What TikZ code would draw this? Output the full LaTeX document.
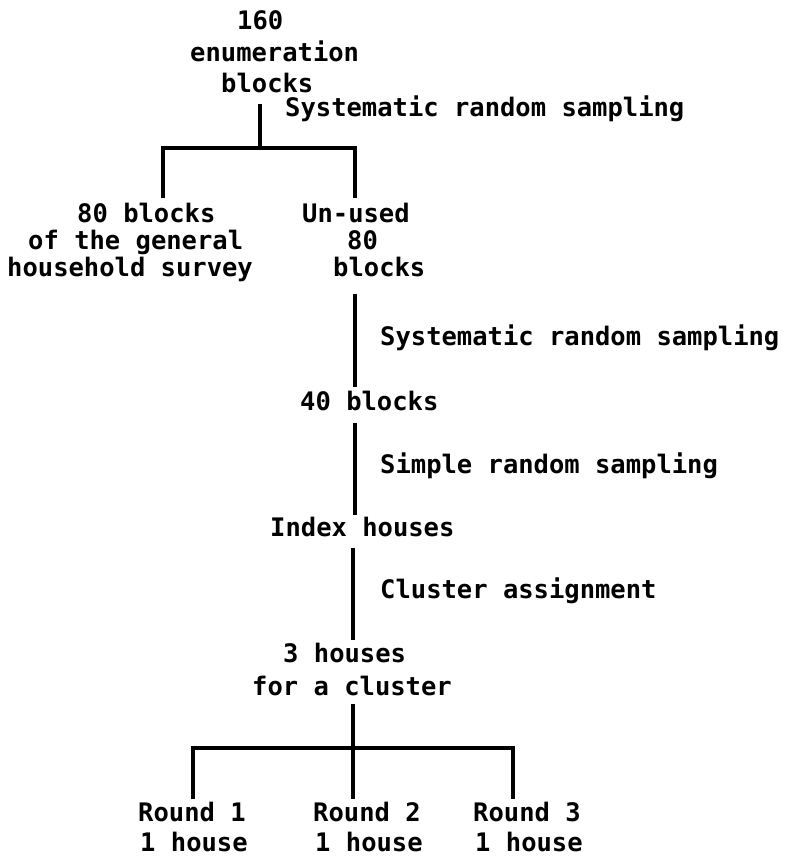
\documentclass[tikz,border=0pt]{standalone}
\usepackage{fontspec}
\setmonofont{DejaVu Sans Mono}
\begin{document}
\begin{tikzpicture}[x=1pt,y=-1pt,
  txt/.style={font=\fontsize{25.5}{31}\selectfont\ttfamily\bfseries, inner sep=0pt, anchor=base west},
  conn/.style={draw=black, line width=3.2pt}]
\fill[white] (0,0) rectangle (797,856);
\useasboundingbox (0,0) rectangle (797,856);
% nodes
\node[txt] (top) at (190,30) {\vtop{\baselineskip=31.5pt\hbox{\kern47pt 160}\hbox{enumeration}\hbox{\kern31pt blocks}}};
\node[txt] (s1) at (285,117) {Systematic random sampling};
\node[txt] (gen) at (7,222) {\vtop{\baselineskip=27pt\hbox{\kern70pt 80 blocks}\hbox{\kern21pt of the general}\hbox{household survey}}};
\node[txt] (un) at (302,222) {\vtop{\baselineskip=27pt\hbox{Un-used}\hbox{\kern45pt 80}\hbox{\kern31pt blocks}}};
\node[txt] (s2) at (380,345) {Systematic random sampling};
\node[txt] (b40) at (300,410) {40 blocks};
\node[txt] (s3) at (380,473) {Simple random sampling};
\node[txt] (idx) at (270,536) {Index houses};
\node[txt] (s4) at (380,598) {Cluster assignment};
\node[txt] (hs) at (252,662) {\vtop{\baselineskip=33pt\hbox{\kern31pt 3 houses}\hbox{for a cluster}}};
\node[txt] (r1) at (138,821) {\vtop{\baselineskip=30pt\hbox{Round 1}\hbox{\kern2pt 1 house}}};
\node[txt] (r2) at (313,821) {\vtop{\baselineskip=30pt\hbox{Round 2}\hbox{\kern2pt 1 house}}};
\node[txt] (r3) at (473,821) {\vtop{\baselineskip=30pt\hbox{Round 3}\hbox{\kern2pt 1 house}}};
% junctions
\coordinate (j1) at (260,148);
\coordinate (jl) at (163,148);
\coordinate (jr) at (355,148);
\coordinate (ax) at (355,300);
\coordinate (bx) at (353,600);
\coordinate (j5) at (353,748);
\coordinate (ja) at (193,748);
\coordinate (jb) at (513,748);
% connectors
\draw[conn] ([yshift=-10pt]top.south -| j1) -- (j1);
\draw[conn, shorten <=4pt, shorten >=4pt] (gen.north -| jl) -- (jl) -- (jr) -- (un.north -| jr);
\draw[conn, shorten >=3pt] ([yshift=-17pt]un.south -| ax) -- (b40.north -| ax);
\draw[conn, shorten >=1pt] ([yshift=-12pt]b40.south -| ax) -- (idx.north -| ax);
\draw[conn, shorten >=2pt] ([yshift=-11pt]idx.south -| bx) -- (hs.north -| bx);
\draw[conn, shorten >=2pt] ([yshift=-8pt]hs.south -| j5) -- (r2.north -| j5);
\draw[conn, shorten <=2pt, shorten >=2pt] (r1.north -| ja) -- (ja) -- (jb) -- (r3.north -| jb);
\end{tikzpicture}
\end{document}
